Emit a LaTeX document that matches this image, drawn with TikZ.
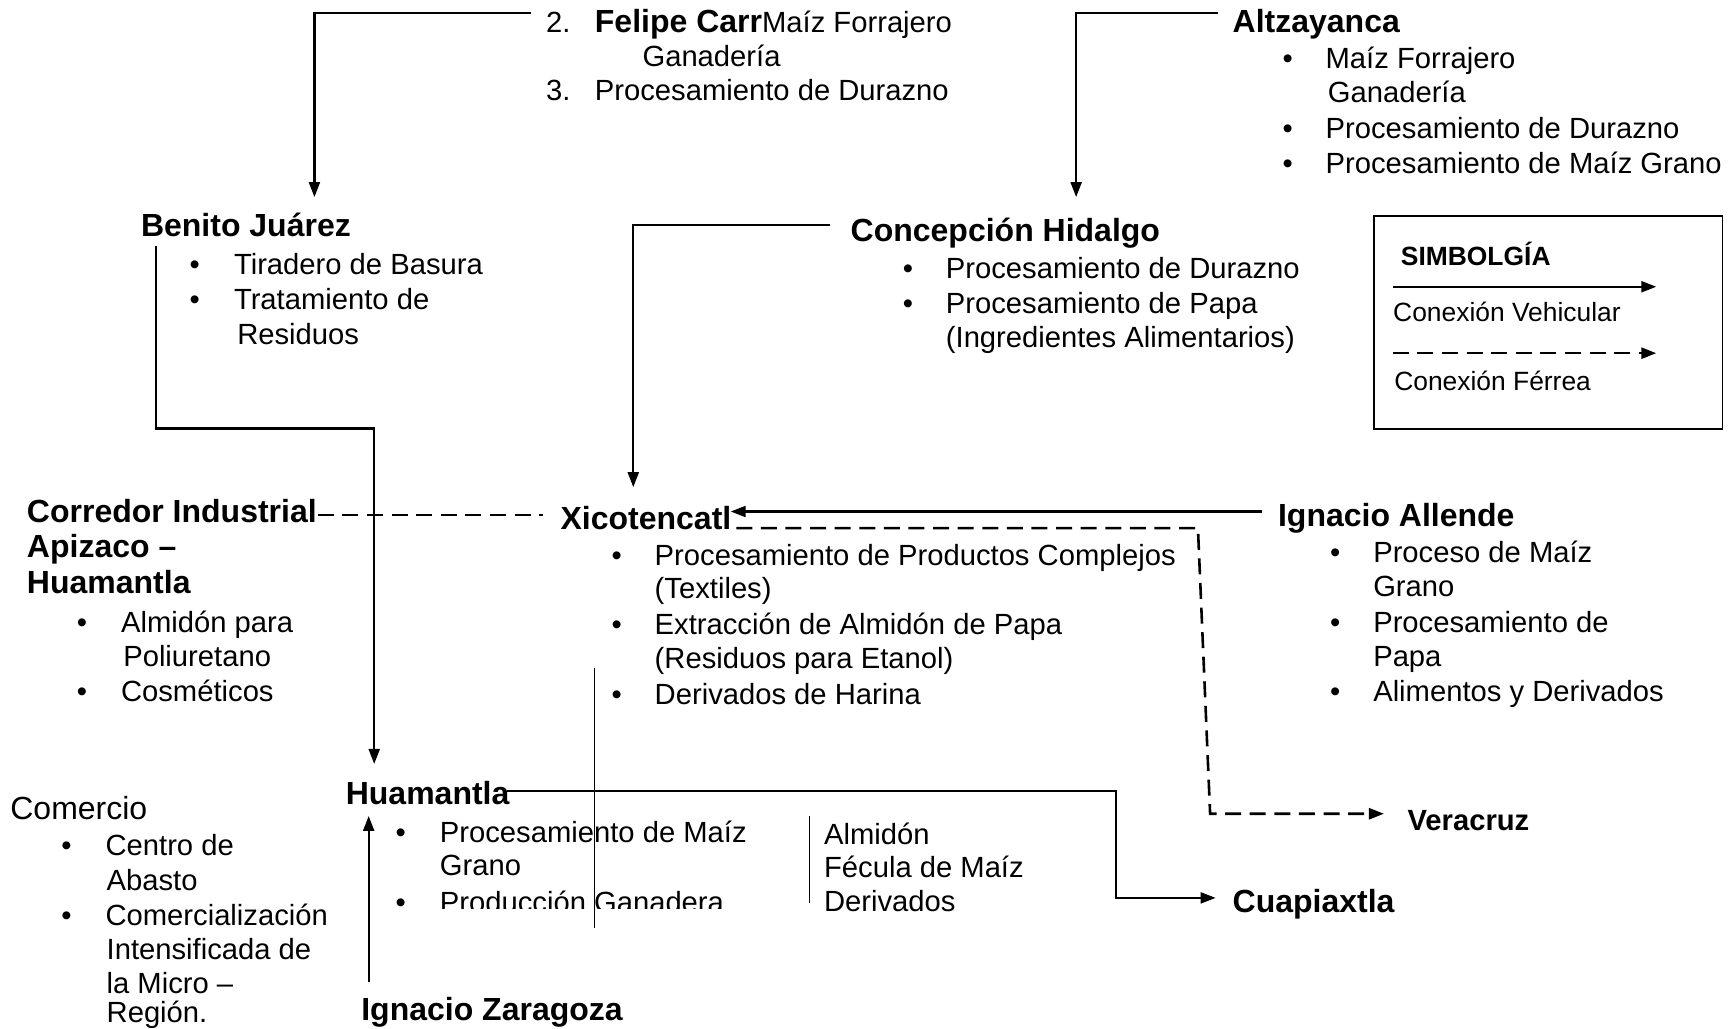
\documentclass[tikz,border=0pt]{standalone}
\usepackage{fontspec}
\setmainfont{Liberation Sans}
\usetikzlibrary{arrows.meta}
\begin{document}
\begin{tikzpicture}[x=0.55357pt,y=-0.55357pt,
  txt/.style={inner sep=0pt, anchor=base west, yshift=-1.1pt, font=\fontsize{14.6}{17.3}\selectfont},
  ttl/.style={inner sep=0pt, anchor=base west, yshift=-1.1pt, font=\fontsize{16}{17.3}\selectfont\bfseries},
  bul/.style={inner sep=0pt, anchor=base, yshift=-1.1pt, font=\fontsize{14.6}{17.3}\selectfont},
  leg/.style={inner sep=0pt, anchor=base west, yshift=-0.6pt, font=\fontsize{13.2}{15}\selectfont},
  tip/.style={-{Triangle[length=7.5pt,width=5.5pt]}},
  road/.style={line width=1.1pt, tip},
  rail/.style={line width=1.3pt, dash pattern=on 8pt off 4.3pt},
  railarrow/.style={rail, tip},
  thinline/.style={line width=0.6pt},
]
\useasboundingbox (0,0) rectangle (1568,929);

% ---------- Felipe Carrillo Puerto block ----------
\node[txt] (f2) at (493,27) {2.};
\node[txt] (felipe) at (537,27) {{\fontsize{16}{17.3}\selectfont\bfseries Felipe Carr}Maíz Forrajero};
\node[txt] (fganad) at (580,58) {Ganadería};
\node[txt] (f3) at (493,89) {3.};
\node[txt] (fdur) at (537,89) {Procesamiento de Durazno};
\coordinate (felipeOut) at (480,12);
\coordinate (benitoIn) at (284,178);

% ---------- Altzayanca ----------
\node[ttl] (altz) at (1113,27) {Altzayanca};
\node[bul] (ab1) at (1163,60) {•};
\node[txt] (at1) at (1197,60) {Maíz Forrajero};
\node[txt] (at1b) at (1199,91) {Ganadería};
\node[bul] (ab2) at (1163,123) {•};
\node[txt] (at2) at (1197,123) {Procesamiento de Durazno};
\node[bul] (ab3) at (1163,155) {•};
\node[txt] (at3) at (1197,155) {Procesamiento de Maíz Grano};
\coordinate (altzOut) at (1100,12);
\coordinate (concIn) at (972,178);

% ---------- Benito Juárez ----------
\node[ttl] (benito) at (127,212) {Benito Juárez};
\node[bul] (bb1) at (176,246) {•};
\node[txt] (bt1) at (211,246) {Tiradero de Basura};
\node[bul] (bb2) at (176,278) {•};
\node[txt] (bt2) at (211,278) {Tratamiento de};
\node[txt] (bt2b) at (214,309) {Residuos};
\coordinate (benitoOut) at (141,222);

% ---------- Concepción Hidalgo ----------
\node[ttl] (conc) at (768,216) {Concepción Hidalgo};
\node[bul] (cb1) at (820,250) {•};
\node[txt] (ct1) at (854,250) {Procesamiento de Durazno};
\node[bul] (cb2) at (820,281) {•};
\node[txt] (ct2) at (854,281) {Procesamiento de Papa};
\node[txt] (ct2b) at (854,312) {(Ingredientes Alimentarios)};
\coordinate (concOut) at (750,203);
\coordinate (xicoIn) at (572,440);

% ---------- Legend ----------
\node[draw, line width=0.9pt, minimum width=315*0.55357pt, minimum height=193*0.55357pt, anchor=north west, inner sep=0pt] (legend) at (1240,194) {};
\node[leg, font=\fontsize{13.2}{15}\selectfont\bfseries] (simb) at (1265,239) {SIMBOLGÍA};
\coordinate (lv1) at (1258,259);
\coordinate (lv2) at (1496,259);
\node[leg] (lvt) at (1258,289) {Conexión Vehicular};
\coordinate (lf1) at (1258,319);
\coordinate (lf2) at (1496,319);
\node[leg] (lft) at (1259,352) {Conexión Férrea};

% ---------- Corredor Industrial ----------
\node[ttl] (corr) at (24,470) {Corredor Industrial};
\node[ttl] (corr2) at (24,502) {Apizaco –};
\node[ttl] (corr3) at (24,534) {Huamantla};
\node[bul] (kb1) at (74,569) {•};
\node[txt] (kt1) at (109,569) {Almidón para};
\node[txt] (kt1b) at (111,600) {Poliuretano};
\node[bul] (kb2) at (74,632) {•};
\node[txt] (kt2) at (109,632) {Cosméticos};
\coordinate (corrOut) at (287,465);
\coordinate (xicoWest) at (490,465);

% ---------- Xicotencatl ----------
\node[ttl] (xico) at (506,476) {Xicotencatl};
\node[bul] (xb1) at (557,509) {•};
\node[txt] (xt1) at (591,509) {Procesamiento de Productos Complejos};
\node[txt] (xt1b) at (591,539) {(Textiles)};
\node[bul] (xb2) at (557,571) {•};
\node[txt] (xt2) at (591,571) {Extracción de Almidón de Papa};
\node[txt] (xt2b) at (591,602) {(Residuos para Etanol)};
\node[bul] (xb3) at (557,634) {•};
\node[txt] (xt3) at (591,634) {Derivados de Harina};
\coordinate (xicoArr) at (660,462);
\coordinate (xicoRail) at (665,477);
\coordinate (railC1) at (1082,477);
\coordinate (railC2) at (1093,735);
\coordinate (veraIn) at (1250,735);
\coordinate (xl1) at (537,603);
\coordinate (xl2) at (537,838);

% ---------- Ignacio Allende ----------
\node[ttl] (allende) at (1154,474) {Ignacio Allende};
\node[bul] (ib1) at (1206,506) {•};
\node[txt] (it1) at (1240,506) {Proceso de Maíz};
\node[txt] (it1b) at (1240,537) {Grano};
\node[bul] (ib2) at (1206,569) {•};
\node[txt] (it2) at (1240,569) {Procesamiento de};
\node[txt] (it2b) at (1240,600) {Papa};
\node[bul] (ib3) at (1206,632) {•};
\node[txt] (it3) at (1240,632) {Alimentos y Derivados};
\coordinate (allendeOut) at (1140,462);

% ---------- Comercio ----------
\node[txt, font=\fontsize{16}{17.3}\selectfont] (com) at (9,738) {Comercio};
\node[bul] (mb1) at (60,771) {•};
\node[txt] (mt1) at (95,771) {Centro de};
\node[txt] (mt1b) at (96,802) {Abasto};
\node[bul] (mb2) at (60,834) {•};
\node[txt] (mt2) at (95,834) {Comercialización};
\node[txt] (mt2b) at (96,865) {Intensificada de};
\node[txt] (mt2c) at (96,895) {la Micro –};
\node[txt] (mt2d) at (96,921.5) {Región.};

% ---------- Huamantla ----------
\node[ttl] (huam) at (312,725) {Huamantla};
\node[bul] (hb1) at (362,759) {•};
\node[txt] (ht1) at (397,759) {Procesamiento de Maíz};
\node[txt] (ht1b) at (397,789) {Grano};
\node[bul] (hb2) at (362,822) {•};
\begin{scope}
  \clip (380,780) rectangle (720,821);
  \node[txt] (ht2) at (397,822) {Producción Ganadera};
\end{scope}
\coordinate (huamIn) at (338,690);
\coordinate (huamIn2) at (333,737);
\coordinate (huamOut) at (458,714.5);
\coordinate (hc1) at (1008,714.5);
\coordinate (hc2) at (1008,811);
\coordinate (cuapIn) at (1098,811);
\coordinate (hl1) at (731,737);
\coordinate (hl2) at (731,816);
\node[txt] (al1) at (744,761) {Almidón};
\node[txt] (al2) at (744,791) {Fécula de Maíz};
\node[txt] (al3) at (744,821) {Derivados};

% ---------- Cuapiaxtla, Veracruz, Ignacio Zaragoza ----------
\node[ttl] (cuap) at (1113,822) {Cuapiaxtla};
\node[txt, font=\fontsize{14.6}{17.3}\selectfont\bfseries] (vera) at (1271,748) {Veracruz};
\node[ttl] (zara) at (326,919.5) {Ignacio Zaragoza};
\coordinate (zaraOut) at (333,887);

% ---------- Connectors ----------
\draw[road] (felipeOut) -| (benitoIn);
\draw[road] (altzOut) -| (concIn);
\draw[road] (concOut) -| (xicoIn);
\draw[road] (benitoOut) |- (338,387) -- (huamIn);
\draw[road] (allendeOut) -- (xicoArr);
\draw[rail] (corrOut) -- (xicoWest);
\draw[railarrow] (xicoRail) -- (railC1) -- (railC2) -- (veraIn);
\draw[road] (zaraOut) -- (huamIn2);
\draw[line width=1pt, tip] (huamOut) -- (hc1) -- (hc2) -- (cuapIn);
\draw[thinline] (xl1) -- (xl2);
\draw[thinline] (hl1) -- (hl2);
\draw[road] (lv1) -- (lv2);
\draw[railarrow] (lf1) -- (lf2);
\end{tikzpicture}
\end{document}
